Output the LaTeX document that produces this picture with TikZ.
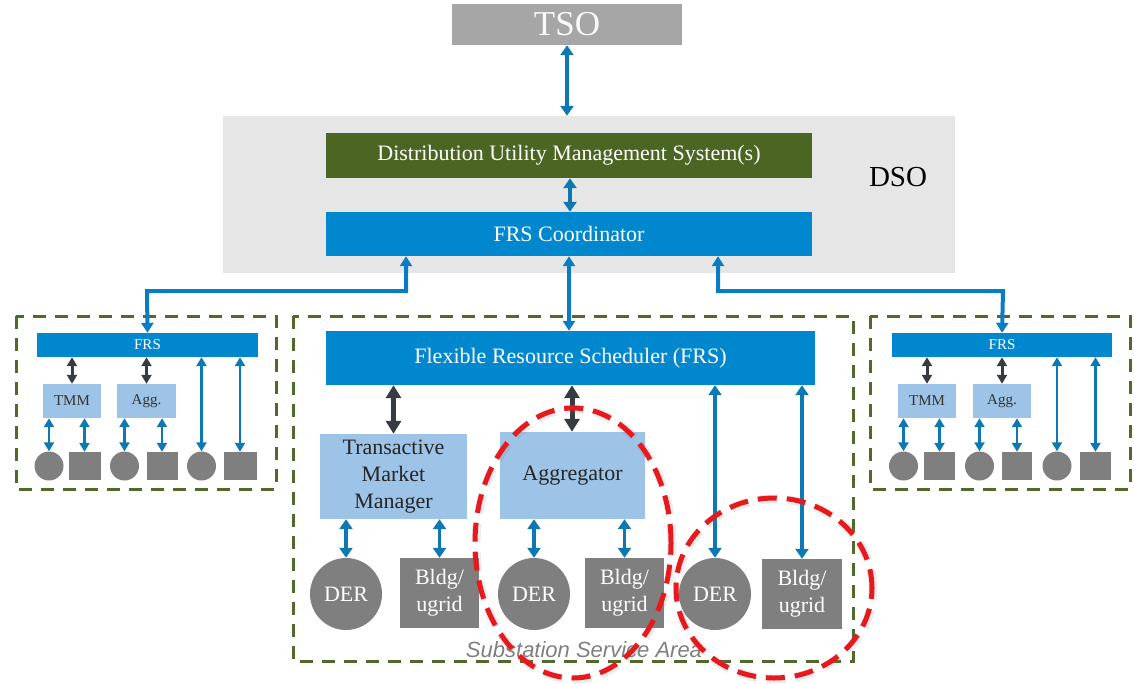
\documentclass[tikz,border=0pt]{standalone}
\usepackage{fontspec}
\setmainfont{Liberation Serif}
\setsansfont{Liberation Sans}
\usetikzlibrary{arrows.meta}

\definecolor{tsogray}{HTML}{A6A6A6}
\definecolor{dsogray}{HTML}{E6E6E6}
\definecolor{dumsgreen}{HTML}{4A6622}
\definecolor{frsblue}{HTML}{0087CD}
\definecolor{mgrblue}{HTML}{9DC3E6}
\definecolor{devgray}{HTML}{7F7F7F}
\definecolor{linkblue}{HTML}{0E78B2}
\definecolor{feedblue}{HTML}{0A7CC6}
\definecolor{ctrldark}{HTML}{363C42}
\definecolor{areagreen}{HTML}{4F6A2A}
\definecolor{markred}{HTML}{E8191C}

\tikzset{
  box/.style={rectangle, inner sep=0pt, align=center},
  tsobox/.style={box, fill=tsogray, text=white!95!gray, font=\fontsize{35}{35}\selectfont},
  dumsbox/.style={box, fill=dumsgreen, text=white, font=\fontsize{22}{26}\selectfont},
  frsbox/.style={box, fill=frsblue, text=white, font=\fontsize{22}{26}\selectfont},
  smallfrs/.style={box, fill=frsblue, text=white, font=\fontsize{15}{18}\selectfont},
  mgrbox/.style={box, fill=mgrblue, text=black!85, font=\fontsize{22}{27}\selectfont},
  smallmgr/.style={box, fill=mgrblue, text=black!80, font=\fontsize{15}{18}\selectfont},
  der/.style={circle, inner sep=0pt, fill=devgray, text=white, font=\fontsize{22}{27}\selectfont},
  bldg/.style={box, fill=devgray, text=white, font=\fontsize{22}{27}\selectfont},
  link/.style={draw=linkblue, line width=3.5pt, >={Triangle[length=10pt,width=13pt]}, <->},
  smalllink/.style={draw=linkblue, line width=2.7pt, >={Triangle[length=9pt,width=10pt]}, <->},
  feed/.style={draw=feedblue, line width=4pt, >={Triangle[length=10pt,width=12pt]}, <->},
  ctrl/.style={draw=ctrldark, line width=5pt, >={Triangle[length=13pt,width=15pt]}, <->},
  smallctrl/.style={draw=ctrldark, line width=3pt, >={Triangle[length=9pt,width=10pt]}, <->},
  area/.style={draw=areagreen, line width=3pt, dash pattern=on 13pt off 9pt},
  ring/.style={draw=markred, line width=5pt, dash pattern=on 19pt off 10pt},
}

\begin{document}
\begin{tikzpicture}[x=1pt,y=-1pt]
\useasboundingbox (0,0) rectangle (1134,683);

\draw[area] (16,316) rectangle (276,489);
\draw[area] (293,316) rectangle (853,661);
\draw[area] (870,316) rectangle (1130,489);

\node[box, fill=dsogray, minimum width=732pt, minimum height=157pt] (dso) at (589,194.5) {};
\node[font=\fontsize{29}{29}\selectfont] (dsolabel) at (898,177) {DSO};
\node[tsobox, minimum width=230pt, minimum height=41pt] (tso) at (567,24.5) {TSO};
\node[dumsbox, minimum width=486pt, minimum height=45pt] (dums) at (569,155.5) {Distribution Utility Management System(s)};
\node[frsbox, minimum width=486pt, minimum height=44pt] (coord) at (569,234) {FRS Coordinator};

\draw[link] (tso.south) -- (tso.south |- dso.north);
\draw[link] ([xshift=1pt]dums.south) -- ([xshift=1pt]coord.north);

% substation area
\node[frsbox, minimum width=489pt, minimum height=54pt] (frs) at (570.5,358) {Flexible Resource Scheduler (FRS)};
\node[mgrbox, minimum width=147pt, minimum height=85pt] (tmm) at (393.5,476.5) {Transactive\\Market\\Manager};
\node[mgrbox, minimum width=145pt, minimum height=87pt] (agg) at (572.5,475.5) {Aggregator};
\node[der, minimum size=72pt] (derA) at (346,594) {DER};
\node[bldg, minimum width=79pt, minimum height=70pt] (bldA) at (439.5,593) {Bldg/\\ugrid};
\node[der, minimum size=72pt] (derB) at (534,594) {DER};
\node[bldg, minimum width=79pt, minimum height=70pt] (bldB) at (624.5,593) {Bldg/\\ugrid};
\node[der, minimum size=72pt] (derC) at (715,594) {DER};
\node[bldg, minimum width=80pt, minimum height=70pt] (bldC) at (802,594) {Bldg/\\ugrid};
\node[font=\sffamily\itshape\fontsize{22}{22}\selectfont, text=devgray] (ssa) at (584,650) {Substation Service Area};

\draw[ctrl] (frs.south -| tmm) -- (tmm.north);
\draw[ctrl] ([xshift=-0.5pt]frs.south -| agg) -- ([xshift=-0.5pt]agg.north);
\draw[link] (tmm.south -| derA) -- (derA.north);
\draw[link] (tmm.south -| bldA) -- (bldA.north);
\draw[link] (agg.south -| derB) -- (derB.north);
\draw[link] (agg.south -| bldB) -- (bldB.north);
\draw[link] (frs.south -| derC) -- (derC.north);
\draw[link] (frs.south -| bldC) -- (bldC.north);

% left area
\node[smallfrs, minimum width=221pt, minimum height=24pt] (frsL) at (147.5,345) {FRS};
\node[smallmgr, minimum width=58pt, minimum height=34pt] (tmmL) at (72,401) {TMM};
\node[smallmgr, minimum width=59pt, minimum height=34pt] (aggL) at (146.5,401) {Agg.};
\node[der, minimum size=29pt] (derLa) at (49,466) {};
\node[bldg, minimum width=32pt, minimum height=28pt] (bldLa) at (84.5,466) {};
\node[der, minimum size=29pt] (derLb) at (124.5,466) {};
\node[bldg, minimum width=31pt, minimum height=28pt] (bldLb) at (162,466) {};
\node[der, minimum size=29pt] (derLc) at (201.5,466) {};
\node[bldg, minimum width=33pt, minimum height=28pt] (bldLc) at (240,466) {};

\draw[smallctrl] (frsL.south -| tmmL) -- (tmmL.north);
\draw[smallctrl] (frsL.south -| aggL) -- (aggL.north);
\draw[smalllink] (tmmL.south -| derLa) -- (derLa.north);
\draw[smalllink] (tmmL.south -| bldLa) -- (bldLa.north);
\draw[smalllink] (aggL.south -| derLb) -- (derLb.north);
\draw[smalllink] (aggL.south -| bldLb) -- (bldLb.north);
\draw[smalllink] (frsL.south -| derLc) -- (derLc.north);
\draw[smalllink] (frsL.south -| bldLc) -- (bldLc.north);

% right area
\node[smallfrs, minimum width=220pt, minimum height=24pt] (frsR) at (1002,345) {FRS};
\node[smallmgr, minimum width=58pt, minimum height=34pt] (tmmR) at (927,401) {TMM};
\node[smallmgr, minimum width=58pt, minimum height=34pt] (aggR) at (1002,401) {Agg.};
\node[der, minimum size=29pt] (derRa) at (903.5,466) {};
\node[bldg, minimum width=31pt, minimum height=28pt] (bldRa) at (939.5,466) {};
\node[der, minimum size=29pt] (derRb) at (979.5,466) {};
\node[bldg, minimum width=30pt, minimum height=28pt] (bldRb) at (1017,466) {};
\node[der, minimum size=29pt] (derRc) at (1057,466) {};
\node[bldg, minimum width=31pt, minimum height=28pt] (bldRc) at (1095.5,466) {};

\draw[smallctrl] (frsR.south -| tmmR) -- (tmmR.north);
\draw[smallctrl] (frsR.south -| aggR) -- (aggR.north);
\draw[smalllink] (tmmR.south -| derRa) -- (derRa.north);
\draw[smalllink] (tmmR.south -| bldRa) -- (bldRa.north);
\draw[smalllink] (aggR.south -| derRb) -- (derRb.north);
\draw[smalllink] (aggR.south -| bldRb) -- (bldRb.north);
\draw[smalllink] (frsR.south -| derRc) -- (derRc.north);
\draw[smalllink] (frsR.south -| bldRc) -- (bldRc.north);

% links to the coordinator
\draw[feed] (frsL.north) -- (147,291) -| ([xshift=-163pt]coord.south);
\draw[feed] (frs.north -| coord.south) -- (coord.south);
\draw[feed] (frsR.north) -- (1003,291) -| ([xshift=149pt]coord.south);

% highlighted groups
\draw[ring, draw=gray, opacity=0.15, line width=9pt] (574,544) ellipse [x radius=98pt, y radius=135pt];
\draw[ring, draw=gray, opacity=0.15, line width=9pt] (775,589) ellipse [x radius=98pt, y radius=90pt];
\draw[ring] (573,543) ellipse [x radius=98pt, y radius=135pt];
\draw[ring] (774,588) ellipse [x radius=98pt, y radius=90pt];
\end{tikzpicture}
\end{document}
